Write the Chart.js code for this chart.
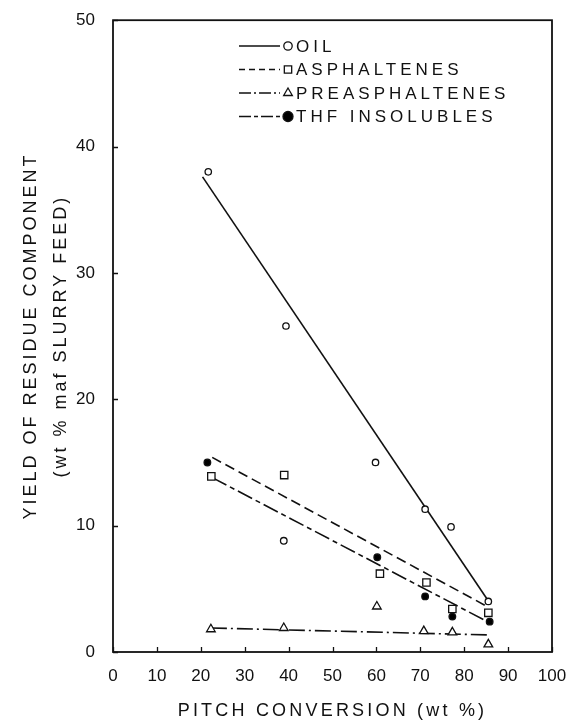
<!DOCTYPE html>
<html>
<head>
<meta charset="utf-8">
<script src="https://cdn.jsdelivr.net/npm/chart.js@4.4.0/dist/chart.umd.min.js"></script>
<style>
html, body { margin: 0; padding: 0; background: #fff; }
</style>
</head>
<body>
<canvas id="yieldChart" width="575" height="725"></canvas>
<script>
// residue component yields vs pitch conversion (wt %)
var seriesNames = ['OIL', 'ASPHALTENES', 'PREASPHALTENES', 'THF INSOLUBLES'];

var oilX = [21.7, 39.4, 59.8, 71.1, 77.0, 85.5];
var oilY = [38.0, 25.8, 15.0, 11.3, 9.9, 4.0];
var asphX = [22.4, 39.0, 60.8, 71.4, 77.3, 85.5];
var asphY = [13.9, 14.0, 6.2, 5.5, 3.4, 3.1];
var preX = [22.3, 38.9, 60.1, 70.8, 77.3, 85.5];
var preY = [1.8, 1.9, 3.6, 1.65, 1.55, 0.6];
var thfX = [21.5, 38.9, 60.2, 71.1, 77.3, 85.8];
var thfY = [15.0, 8.8, 7.5, 4.4, 2.8, 2.4];

// straight-line fits, end points
var oilFitX = [20.4, 85.2];
var oilFitY = [37.6, 4.2];
var asphFitX = [22.6, 85.5];
var asphFitY = [15.4, 3.55];
var preFitX = [22.3, 85.5];
var preFitY = [1.9, 1.35];
var thfFitX = [22.6, 85.3];
var thfFitY = [13.8, 2.4];

var xTickValues = [0, 10, 20, 30, 40, 50, 60, 70, 80, 90, 100];
var yTickValues = [0, 10, 20, 30, 40, 50];

var FONT = '"Liberation Sans", Arial, Helvetica, sans-serif';

function toPoints(xs, ys) {
    return xs.map(function(x, i) { return { x: x, y: ys[i] }; });
}

var markers = [
    { pointStyle: 'circle', radius: 3.2, fill: '#fff' },
    { pointStyle: 'rect', radius: 5.2, fill: '#fff' },
    { pointStyle: 'triangle', radius: 5, fill: '#fff' },
    { pointStyle: 'circle', radius: 3.3, fill: '#000' }
];
var dashes = [[], [10, 5], [16, 4, 2, 4], [16, 4, 5, 4]];
var keyDashes = [[], [6, 4], [12, 3, 2, 3], [12, 3, 4, 3]];

var pointSets = [[oilX, oilY], [asphX, asphY], [preX, preY], [thfX, thfY]];
var fitSets = [[oilFitX, oilFitY], [asphFitX, asphFitY], [preFitX, preFitY], [thfFitX, thfFitY]];

var datasets = [];
fitSets.forEach(function(s, i) {
    datasets.push({
        label: seriesNames[i] + ' fit',
        data: toPoints(s[0], s[1]),
        showLine: true,
        borderColor: '#111',
        borderWidth: 1.6,
        borderDash: dashes[i],
        pointRadius: 0,
        order: 2
    });
});
pointSets.forEach(function(s, i) {
    var bg = markers[i].fill;
    if (i === 3) {
        // the 39 % point is printed open
        bg = s[0].map(function(x, j) { return j === 1 ? '#fff' : '#000'; });
    }
    datasets.push({
        label: seriesNames[i],
        data: toPoints(s[0], s[1]),
        showLine: false,
        pointStyle: markers[i].pointStyle,
        pointRadius: markers[i].radius,
        pointBackgroundColor: bg,
        pointBorderColor: '#111',
        pointBorderWidth: 1.3,
        order: 1
    });
});

var framePlugin = {
    id: 'frameAndLabels',
    afterDraw: function(chart) {
        var ctx = chart.ctx;
        var a = chart.chartArea;
        var xs = chart.scales.x, ys = chart.scales.y;
        ctx.save();
        ctx.strokeStyle = '#111';
        ctx.lineWidth = 1.8;
        ctx.setLineDash([]);
        ctx.strokeRect(a.left, a.top, a.right - a.left, a.bottom - a.top);

        // inward tick marks
        ctx.lineWidth = 1.3;
        ctx.beginPath();
        xTickValues.forEach(function(v) {
            var px = Math.round(xs.getPixelForValue(v)) + 0.5;
            ctx.moveTo(px, a.bottom);
            ctx.lineTo(px, a.bottom - 5);
        });
        yTickValues.forEach(function(v) {
            var py = Math.round(ys.getPixelForValue(v)) + 0.5;
            ctx.moveTo(a.left, py);
            ctx.lineTo(a.left + 5, py);
        });
        ctx.stroke();

        // axis titles
        ctx.fillStyle = '#111';
        ctx.font = '18px ' + FONT;
        ctx.letterSpacing = '3.2px';
        ctx.textAlign = 'center';
        ctx.textBaseline = 'middle';
        ctx.fillText('PITCH CONVERSION (wt %)', (a.left + a.right) / 2, 711);

        var midY = (a.top + a.bottom) / 2;
        ctx.letterSpacing = '3px';
        ctx.save();
        ctx.translate(31, midY);
        ctx.rotate(-Math.PI / 2);
        ctx.fillText('YIELD OF RESIDUE COMPONENT', 0, 0);
        ctx.restore();
        ctx.save();
        ctx.translate(61, midY);
        ctx.rotate(-Math.PI / 2);
        ctx.fillText('(wt % maf SLURRY FEED)', 0, 0);
        ctx.restore();

        // key
        ctx.font = '17px ' + FONT;
        ctx.textAlign = 'left';
        ctx.letterSpacing = '4px';
        seriesNames.forEach(function(name, i) {
            var y = 46 + i * 23.5;
            ctx.strokeStyle = '#111';
            ctx.lineWidth = 1.6;
            ctx.setLineDash(keyDashes[i]);
            ctx.beginPath();
            ctx.moveTo(239, y);
            ctx.lineTo(280, y);
            ctx.stroke();
            ctx.setLineDash([]);
            ctx.fillStyle = markers[i].fill;
            ctx.lineWidth = 1.3;
            Chart.helpers.drawPoint(ctx, {
                pointStyle: markers[i].pointStyle,
                radius: i === 3 ? 5 : (i === 0 ? 4.2 : markers[i].radius),
                rotation: 0,
                borderWidth: 1.3
            }, 288, y);
            ctx.fillStyle = '#111';
            ctx.fillText(name, 296, y + 1);
        });
        ctx.restore();
    }
};

var chart = new Chart(document.getElementById('yieldChart').getContext('2d'), {
    type: 'scatter',
    data: { datasets: datasets },
    options: {
        responsive: false,
        animation: false,
        layout: { padding: { top: 14, right: 23, left: 0, bottom: 0 } },
        plugins: { legend: { display: false }, tooltip: { enabled: false } },
        scales: {
            x: {
                type: 'linear',
                min: 0,
                max: 100,
                grid: { display: false },
                border: { display: false },
                afterBuildTicks: function(scale) {
                    scale.ticks = xTickValues.map(function(v) { return { value: v }; });
                },
                afterFit: function(scale) { scale.height = 73; },
                ticks: { color: '#111', padding: 6, maxRotation: 0, font: { family: FONT, size: 17 } }
            },
            y: {
                type: 'linear',
                min: 0,
                max: 50,
                grid: { display: false },
                border: { display: false },
                afterBuildTicks: function(scale) {
                    scale.ticks = yTickValues.map(function(v) { return { value: v }; });
                },
                afterFit: function(scale) { scale.width = 113; },
                ticks: { color: '#111', padding: 10, font: { family: FONT, size: 17 } }
            }
        }
    },
    plugins: [framePlugin]
});
</script>
</body>
</html>
